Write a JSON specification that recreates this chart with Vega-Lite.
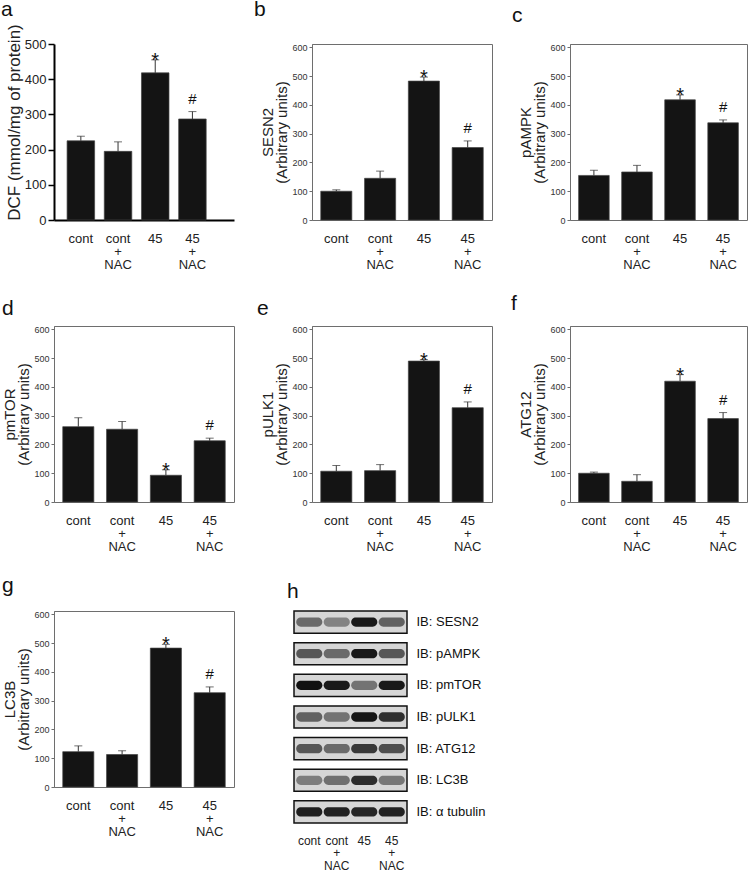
{
  "$schema": "https://vega.github.io/schema/vega-lite/v6.json",
  "padding": {"left": 1, "top": -2, "right": 0, "bottom": 0},
  "background": "white",
  "datasets": {
    "bars": [
      {"panel": "a", "group": "cont", "mean": 225, "upper": 238, "sig": ""},
      {"panel": "a", "group": "cont + NAC", "mean": 195, "upper": 222, "sig": ""},
      {"panel": "a", "group": "45", "mean": 418, "upper": 455, "sig": "*"},
      {"panel": "a", "group": "45 + NAC", "mean": 287, "upper": 308, "sig": "#"},
      {"panel": "b", "group": "cont", "mean": 100, "upper": 105, "sig": ""},
      {"panel": "b", "group": "cont + NAC", "mean": 145, "upper": 170, "sig": ""},
      {"panel": "b", "group": "45", "mean": 483, "upper": 497, "sig": "*"},
      {"panel": "b", "group": "45 + NAC", "mean": 252, "upper": 275, "sig": "#"},
      {"panel": "c", "group": "cont", "mean": 155, "upper": 173, "sig": ""},
      {"panel": "c", "group": "cont + NAC", "mean": 167, "upper": 190, "sig": ""},
      {"panel": "c", "group": "45", "mean": 418, "upper": 435, "sig": "*"},
      {"panel": "c", "group": "45 + NAC", "mean": 338, "upper": 348, "sig": "#"},
      {"panel": "d", "group": "cont", "mean": 262, "upper": 293, "sig": ""},
      {"panel": "d", "group": "cont + NAC", "mean": 253, "upper": 280, "sig": ""},
      {"panel": "d", "group": "45", "mean": 93, "upper": 112, "sig": "*"},
      {"panel": "d", "group": "45 + NAC", "mean": 213, "upper": 222, "sig": "#"},
      {"panel": "e", "group": "cont", "mean": 107, "upper": 127, "sig": ""},
      {"panel": "e", "group": "cont + NAC", "mean": 109, "upper": 130, "sig": ""},
      {"panel": "e", "group": "45", "mean": 490, "upper": 495, "sig": "*"},
      {"panel": "e", "group": "45 + NAC", "mean": 328, "upper": 348, "sig": "#"},
      {"panel": "f", "group": "cont", "mean": 100, "upper": 104, "sig": ""},
      {"panel": "f", "group": "cont + NAC", "mean": 72, "upper": 95, "sig": ""},
      {"panel": "f", "group": "45", "mean": 420, "upper": 443, "sig": "*"},
      {"panel": "f", "group": "45 + NAC", "mean": 290, "upper": 311, "sig": "#"},
      {"panel": "g", "group": "cont", "mean": 123, "upper": 143, "sig": ""},
      {"panel": "g", "group": "cont + NAC", "mean": 113, "upper": 126, "sig": ""},
      {"panel": "g", "group": "45", "mean": 483, "upper": 496, "sig": "*"},
      {"panel": "g", "group": "45 + NAC", "mean": 328, "upper": 348, "sig": "#"}
    ],
    "blotrows": [
      {"protein": "SESN2"}, {"protein": "pAMPK"}, {"protein": "pmTOR"}, {"protein": "pULK1"},
      {"protein": "ATG12"}, {"protein": "LC3B"}, {"protein": "α tubulin"}
    ],
    "blot": [
      {"protein": "SESN2", "lane": "cont", "intensity": 0.45},
      {"protein": "SESN2", "lane": "cont + NAC", "intensity": 0.32},
      {"protein": "SESN2", "lane": "45", "intensity": 0.92},
      {"protein": "SESN2", "lane": "45 + NAC", "intensity": 0.5},
      {"protein": "pAMPK", "lane": "cont", "intensity": 0.55},
      {"protein": "pAMPK", "lane": "cont + NAC", "intensity": 0.45},
      {"protein": "pAMPK", "lane": "45", "intensity": 0.92},
      {"protein": "pAMPK", "lane": "45 + NAC", "intensity": 0.55},
      {"protein": "pmTOR", "lane": "cont", "intensity": 0.97},
      {"protein": "pmTOR", "lane": "cont + NAC", "intensity": 0.92},
      {"protein": "pmTOR", "lane": "45", "intensity": 0.4},
      {"protein": "pmTOR", "lane": "45 + NAC", "intensity": 0.92},
      {"protein": "pULK1", "lane": "cont", "intensity": 0.5},
      {"protein": "pULK1", "lane": "cont + NAC", "intensity": 0.4},
      {"protein": "pULK1", "lane": "45", "intensity": 0.95},
      {"protein": "pULK1", "lane": "45 + NAC", "intensity": 0.78},
      {"protein": "ATG12", "lane": "cont", "intensity": 0.55},
      {"protein": "ATG12", "lane": "cont + NAC", "intensity": 0.45},
      {"protein": "ATG12", "lane": "45", "intensity": 0.72},
      {"protein": "ATG12", "lane": "45 + NAC", "intensity": 0.6},
      {"protein": "LC3B", "lane": "cont", "intensity": 0.35},
      {"protein": "LC3B", "lane": "cont + NAC", "intensity": 0.42},
      {"protein": "LC3B", "lane": "45", "intensity": 0.8},
      {"protein": "LC3B", "lane": "45 + NAC", "intensity": 0.38},
      {"protein": "α tubulin", "lane": "cont", "intensity": 0.88},
      {"protein": "α tubulin", "lane": "cont + NAC", "intensity": 0.86},
      {"protein": "α tubulin", "lane": "45", "intensity": 0.84},
      {"protein": "α tubulin", "lane": "45 + NAC", "intensity": 0.86}
    ]
  },
  "config": {
    "font": "Liberation Sans",
    "view": {"stroke": "#6e6e6e", "strokeWidth": 1},
    "title": {"anchor": "start", "frame": "group", "fontSize": 21, "fontWeight": "normal", "font": "Liberation Sans", "color": "#111", "baseline": "alphabetic"},
    "axisY": {"grid": false, "labelOverlap": false, "domainColor": "#6e6e6e", "tickColor": "#6e6e6e", "tickSize": 3, "labelFont": "Liberation Sans", "labelFontSize": 9, "labelColor": "#333", "labelPadding": 2, "titleFont": "Liberation Sans", "titleFontSize": 15, "titleFontWeight": "normal", "titleColor": "#222", "titleLineHeight": 14, "titlePadding": 2},
    "axisX": {"grid": false, "domain": false, "ticks": false, "labelAngle": 0, "labelOverlap": false, "labelFont": "Liberation Sans", "labelFontSize": 13, "labelLineHeight": 13, "labelPadding": 12, "labelColor": "#222", "labelBaseline": "top", "title": null, "labelExpr": "split(datum.label, ' ')"}
  },
  "vconcat": [
    {
      "hconcat": [
        {
          "width": 180, "height": 176,
          "view": {"stroke": null},
          "title": {"text": "a", "dx": -53, "offset": 4},
          "data": {"name": "bars"},
          "transform": [{"filter": "datum.panel == 'a'"}],
          "encoding": {
            "x": {"field": "group", "type": "nominal", "sort": ["cont", "cont + NAC", "45", "45 + NAC"], "scale": {"paddingInner": 0.26, "paddingOuter": 0.55, "align": 0.32}, "axis": {"domain": true, "domainColor": "#000", "domainWidth": 2}}
          },
          "layer": [
            {"mark": {"type": "bar", "color": "#141414", "stroke": "#444", "strokeWidth": 0.7}, "encoding": {"y": {"field": "mean", "type": "quantitative", "scale": {"domain": [0, 500], "nice": false}, "axis": {"values": [0, 100, 200, 300, 400, 500], "tickCount": 6, "labelOverlap": false, "title": "DCF (mmol/mg of protein)", "titleY": 78, "domainColor": "#000", "domainWidth": 2, "tickColor": "#000", "tickWidth": 1.5, "tickSize": 6, "labelFont": "Liberation Sans", "labelFontSize": 13, "labelColor": "#222", "labelPadding": 2, "titleFontSize": 17, "titlePadding": 1}}}},
            {"mark": {"type": "rule", "color": "#333", "strokeWidth": 1}, "encoding": {"y": {"field": "mean", "type": "quantitative", "axis": {"values": [0, 100, 200, 300, 400, 500], "tickCount": 6, "labelOverlap": false, "title": "DCF (mmol/mg of protein)"}}, "y2": {"field": "upper"}}},
            {"mark": {"type": "tick", "color": "#333", "thickness": 1, "size": 8, "orient": "horizontal"}, "encoding": {"y": {"field": "upper", "type": "quantitative", "axis": {"values": [0, 100, 200, 300, 400, 500], "tickCount": 6, "labelOverlap": false, "title": "DCF (mmol/mg of protein)"}}}},
            {"transform": [{"filter": "datum.sig == '*'"}], "mark": {"type": "text", "fontSize": 20, "dy": 7, "baseline": "alphabetic", "color": "#111"}, "encoding": {"y": {"field": "upper", "type": "quantitative", "axis": {"values": [0, 100, 200, 300, 400, 500], "tickCount": 6, "labelOverlap": false, "title": "DCF (mmol/mg of protein)"}}, "text": {"field": "sig"}}},
            {"transform": [{"filter": "datum.sig == '#'"}], "mark": {"type": "text", "fontSize": 15, "dy": -8, "baseline": "alphabetic", "color": "#111"}, "encoding": {"y": {"field": "upper", "type": "quantitative", "axis": {"values": [0, 100, 200, 300, 400, 500], "tickCount": 6, "labelOverlap": false, "title": "DCF (mmol/mg of protein)"}}, "text": {"field": "sig"}}}
          ]
        },
        {
          "width": 180, "height": 176,
          "title": {"text": "b", "dx": -58, "offset": 23},
          "data": {"name": "bars"},
          "transform": [{"filter": "datum.panel == 'b'"}],
          "encoding": {"x": {"field": "group", "type": "nominal", "sort": ["cont", "cont + NAC", "45", "45 + NAC"], "scale": {"paddingInner": 0.29, "paddingOuter": 0.2}}},
          "layer": [
            {"mark": {"type": "bar", "color": "#141414", "stroke": "#444", "strokeWidth": 0.7}, "encoding": {"y": {"field": "mean", "type": "quantitative", "scale": {"domain": [0, 612], "nice": false}, "axis": {"values": [0, 100, 200, 300, 400, 500, 600], "tickCount": 7, "labelOverlap": false, "title": ["SESN2", "(Arbitrary units)"]}}}},
            {"mark": {"type": "rule", "color": "#333", "strokeWidth": 1}, "encoding": {"y": {"field": "mean", "type": "quantitative", "axis": {"values": [0, 100, 200, 300, 400, 500, 600], "tickCount": 7, "labelOverlap": false, "title": ["SESN2", "(Arbitrary units)"]}}, "y2": {"field": "upper"}}},
            {"mark": {"type": "tick", "color": "#333", "thickness": 1, "size": 8, "orient": "horizontal"}, "encoding": {"y": {"field": "upper", "type": "quantitative", "axis": {"values": [0, 100, 200, 300, 400, 500, 600], "tickCount": 7, "labelOverlap": false, "title": ["SESN2", "(Arbitrary units)"]}}}},
            {"transform": [{"filter": "datum.sig == '*'"}], "mark": {"type": "text", "fontSize": 20, "dy": 7, "baseline": "alphabetic", "color": "#111"}, "encoding": {"y": {"field": "upper", "type": "quantitative", "axis": {"values": [0, 100, 200, 300, 400, 500, 600], "tickCount": 7, "labelOverlap": false, "title": ["SESN2", "(Arbitrary units)"]}}, "text": {"field": "sig"}}},
            {"transform": [{"filter": "datum.sig == '#'"}], "mark": {"type": "text", "fontSize": 15, "dy": -8, "baseline": "alphabetic", "color": "#111"}, "encoding": {"y": {"field": "upper", "type": "quantitative", "axis": {"values": [0, 100, 200, 300, 400, 500, 600], "tickCount": 7, "labelOverlap": false, "title": ["SESN2", "(Arbitrary units)"]}}, "text": {"field": "sig"}}}
          ]
        },
        {
          "width": 177, "height": 176,
          "title": {"text": "c", "dx": -58, "offset": 17},
          "data": {"name": "bars"},
          "transform": [{"filter": "datum.panel == 'c'"}],
          "encoding": {"x": {"field": "group", "type": "nominal", "sort": ["cont", "cont + NAC", "45", "45 + NAC"], "scale": {"paddingInner": 0.29, "paddingOuter": 0.2}}},
          "layer": [
            {"mark": {"type": "bar", "color": "#141414", "stroke": "#444", "strokeWidth": 0.7}, "encoding": {"y": {"field": "mean", "type": "quantitative", "scale": {"domain": [0, 612], "nice": false}, "axis": {"values": [0, 100, 200, 300, 400, 500, 600], "tickCount": 7, "labelOverlap": false, "title": ["pAMPK", "(Arbitrary units)"]}}}},
            {"mark": {"type": "rule", "color": "#333", "strokeWidth": 1}, "encoding": {"y": {"field": "mean", "type": "quantitative", "axis": {"values": [0, 100, 200, 300, 400, 500, 600], "tickCount": 7, "labelOverlap": false, "title": ["pAMPK", "(Arbitrary units)"]}}, "y2": {"field": "upper"}}},
            {"mark": {"type": "tick", "color": "#333", "thickness": 1, "size": 8, "orient": "horizontal"}, "encoding": {"y": {"field": "upper", "type": "quantitative", "axis": {"values": [0, 100, 200, 300, 400, 500, 600], "tickCount": 7, "labelOverlap": false, "title": ["pAMPK", "(Arbitrary units)"]}}}},
            {"transform": [{"filter": "datum.sig == '*'"}], "mark": {"type": "text", "fontSize": 20, "dy": 7, "baseline": "alphabetic", "color": "#111"}, "encoding": {"y": {"field": "upper", "type": "quantitative", "axis": {"values": [0, 100, 200, 300, 400, 500, 600], "tickCount": 7, "labelOverlap": false, "title": ["pAMPK", "(Arbitrary units)"]}}, "text": {"field": "sig"}}},
            {"transform": [{"filter": "datum.sig == '#'"}], "mark": {"type": "text", "fontSize": 15, "dy": -8, "baseline": "alphabetic", "color": "#111"}, "encoding": {"y": {"field": "upper", "type": "quantitative", "axis": {"values": [0, 100, 200, 300, 400, 500, 600], "tickCount": 7, "labelOverlap": false, "title": ["pAMPK", "(Arbitrary units)"]}}, "text": {"field": "sig"}}}
          ]
        }
      ],
      "spacing": 78,
      "bounds": "flush"
    },
    {
      "hconcat": [
        {
          "width": 180, "height": 176,
          "title": {"text": "d", "dx": -52, "offset": 6},
          "data": {"name": "bars"},
          "transform": [{"filter": "datum.panel == 'd'"}],
          "encoding": {"x": {"field": "group", "type": "nominal", "sort": ["cont", "cont + NAC", "45", "45 + NAC"], "scale": {"paddingInner": 0.29, "paddingOuter": 0.2}}},
          "layer": [
            {"mark": {"type": "bar", "color": "#141414", "stroke": "#444", "strokeWidth": 0.7}, "encoding": {"y": {"field": "mean", "type": "quantitative", "scale": {"domain": [0, 612], "nice": false}, "axis": {"values": [0, 100, 200, 300, 400, 500, 600], "tickCount": 7, "labelOverlap": false, "title": ["pmTOR", "(Arbitrary units)"]}}}},
            {"mark": {"type": "rule", "color": "#333", "strokeWidth": 1}, "encoding": {"y": {"field": "mean", "type": "quantitative", "axis": {"values": [0, 100, 200, 300, 400, 500, 600], "tickCount": 7, "labelOverlap": false, "title": ["pmTOR", "(Arbitrary units)"]}}, "y2": {"field": "upper"}}},
            {"mark": {"type": "tick", "color": "#333", "thickness": 1, "size": 8, "orient": "horizontal"}, "encoding": {"y": {"field": "upper", "type": "quantitative", "axis": {"values": [0, 100, 200, 300, 400, 500, 600], "tickCount": 7, "labelOverlap": false, "title": ["pmTOR", "(Arbitrary units)"]}}}},
            {"transform": [{"filter": "datum.sig == '*'"}], "mark": {"type": "text", "fontSize": 20, "dy": 7, "baseline": "alphabetic", "color": "#111"}, "encoding": {"y": {"field": "upper", "type": "quantitative", "axis": {"values": [0, 100, 200, 300, 400, 500, 600], "tickCount": 7, "labelOverlap": false, "title": ["pmTOR", "(Arbitrary units)"]}}, "text": {"field": "sig"}}},
            {"transform": [{"filter": "datum.sig == '#'"}], "mark": {"type": "text", "fontSize": 15, "dy": -8, "baseline": "alphabetic", "color": "#111"}, "encoding": {"y": {"field": "upper", "type": "quantitative", "axis": {"values": [0, 100, 200, 300, 400, 500, 600], "tickCount": 7, "labelOverlap": false, "title": ["pmTOR", "(Arbitrary units)"]}}, "text": {"field": "sig"}}}
          ]
        },
        {
          "width": 180, "height": 176,
          "title": {"text": "e", "dx": -55, "offset": 6},
          "data": {"name": "bars"},
          "transform": [{"filter": "datum.panel == 'e'"}],
          "encoding": {"x": {"field": "group", "type": "nominal", "sort": ["cont", "cont + NAC", "45", "45 + NAC"], "scale": {"paddingInner": 0.29, "paddingOuter": 0.2}}},
          "layer": [
            {"mark": {"type": "bar", "color": "#141414", "stroke": "#444", "strokeWidth": 0.7}, "encoding": {"y": {"field": "mean", "type": "quantitative", "scale": {"domain": [0, 612], "nice": false}, "axis": {"values": [0, 100, 200, 300, 400, 500, 600], "tickCount": 7, "labelOverlap": false, "title": ["pULK1", "(Arbitrary units)"]}}}},
            {"mark": {"type": "rule", "color": "#333", "strokeWidth": 1}, "encoding": {"y": {"field": "mean", "type": "quantitative", "axis": {"values": [0, 100, 200, 300, 400, 500, 600], "tickCount": 7, "labelOverlap": false, "title": ["pULK1", "(Arbitrary units)"]}}, "y2": {"field": "upper"}}},
            {"mark": {"type": "tick", "color": "#333", "thickness": 1, "size": 8, "orient": "horizontal"}, "encoding": {"y": {"field": "upper", "type": "quantitative", "axis": {"values": [0, 100, 200, 300, 400, 500, 600], "tickCount": 7, "labelOverlap": false, "title": ["pULK1", "(Arbitrary units)"]}}}},
            {"transform": [{"filter": "datum.sig == '*'"}], "mark": {"type": "text", "fontSize": 20, "dy": 7, "baseline": "alphabetic", "color": "#111"}, "encoding": {"y": {"field": "upper", "type": "quantitative", "axis": {"values": [0, 100, 200, 300, 400, 500, 600], "tickCount": 7, "labelOverlap": false, "title": ["pULK1", "(Arbitrary units)"]}}, "text": {"field": "sig"}}},
            {"transform": [{"filter": "datum.sig == '#'"}], "mark": {"type": "text", "fontSize": 15, "dy": -8, "baseline": "alphabetic", "color": "#111"}, "encoding": {"y": {"field": "upper", "type": "quantitative", "axis": {"values": [0, 100, 200, 300, 400, 500, 600], "tickCount": 7, "labelOverlap": false, "title": ["pULK1", "(Arbitrary units)"]}}, "text": {"field": "sig"}}}
          ]
        },
        {
          "width": 177, "height": 176,
          "title": {"text": "f", "dx": -59, "offset": 11},
          "data": {"name": "bars"},
          "transform": [{"filter": "datum.panel == 'f'"}],
          "encoding": {"x": {"field": "group", "type": "nominal", "sort": ["cont", "cont + NAC", "45", "45 + NAC"], "scale": {"paddingInner": 0.29, "paddingOuter": 0.2}}},
          "layer": [
            {"mark": {"type": "bar", "color": "#141414", "stroke": "#444", "strokeWidth": 0.7}, "encoding": {"y": {"field": "mean", "type": "quantitative", "scale": {"domain": [0, 612], "nice": false}, "axis": {"values": [0, 100, 200, 300, 400, 500, 600], "tickCount": 7, "labelOverlap": false, "title": ["ATG12", "(Arbitrary units)"]}}}},
            {"mark": {"type": "rule", "color": "#333", "strokeWidth": 1}, "encoding": {"y": {"field": "mean", "type": "quantitative", "axis": {"values": [0, 100, 200, 300, 400, 500, 600], "tickCount": 7, "labelOverlap": false, "title": ["ATG12", "(Arbitrary units)"]}}, "y2": {"field": "upper"}}},
            {"mark": {"type": "tick", "color": "#333", "thickness": 1, "size": 8, "orient": "horizontal"}, "encoding": {"y": {"field": "upper", "type": "quantitative", "axis": {"values": [0, 100, 200, 300, 400, 500, 600], "tickCount": 7, "labelOverlap": false, "title": ["ATG12", "(Arbitrary units)"]}}}},
            {"transform": [{"filter": "datum.sig == '*'"}], "mark": {"type": "text", "fontSize": 20, "dy": 7, "baseline": "alphabetic", "color": "#111"}, "encoding": {"y": {"field": "upper", "type": "quantitative", "axis": {"values": [0, 100, 200, 300, 400, 500, 600], "tickCount": 7, "labelOverlap": false, "title": ["ATG12", "(Arbitrary units)"]}}, "text": {"field": "sig"}}},
            {"transform": [{"filter": "datum.sig == '#'"}], "mark": {"type": "text", "fontSize": 15, "dy": -8, "baseline": "alphabetic", "color": "#111"}, "encoding": {"y": {"field": "upper", "type": "quantitative", "axis": {"values": [0, 100, 200, 300, 400, 500, 600], "tickCount": 7, "labelOverlap": false, "title": ["ATG12", "(Arbitrary units)"]}}, "text": {"field": "sig"}}}
          ]
        }
      ],
      "spacing": 78,
      "bounds": "flush"
    },
    {
      "hconcat": [
        {
          "width": 180, "height": 176,
          "title": {"text": "g", "dx": -52, "offset": 14},
          "data": {"name": "bars"},
          "transform": [{"filter": "datum.panel == 'g'"}],
          "encoding": {"x": {"field": "group", "type": "nominal", "sort": ["cont", "cont + NAC", "45", "45 + NAC"], "scale": {"paddingInner": 0.29, "paddingOuter": 0.2}}},
          "layer": [
            {"mark": {"type": "bar", "color": "#141414", "stroke": "#444", "strokeWidth": 0.7}, "encoding": {"y": {"field": "mean", "type": "quantitative", "scale": {"domain": [0, 612], "nice": false}, "axis": {"values": [0, 100, 200, 300, 400, 500, 600], "tickCount": 7, "labelOverlap": false, "title": ["LC3B", "(Arbitrary units)"]}}}},
            {"mark": {"type": "rule", "color": "#333", "strokeWidth": 1}, "encoding": {"y": {"field": "mean", "type": "quantitative", "axis": {"values": [0, 100, 200, 300, 400, 500, 600], "tickCount": 7, "labelOverlap": false, "title": ["LC3B", "(Arbitrary units)"]}}, "y2": {"field": "upper"}}},
            {"mark": {"type": "tick", "color": "#333", "thickness": 1, "size": 8, "orient": "horizontal"}, "encoding": {"y": {"field": "upper", "type": "quantitative", "axis": {"values": [0, 100, 200, 300, 400, 500, 600], "tickCount": 7, "labelOverlap": false, "title": ["LC3B", "(Arbitrary units)"]}}}},
            {"transform": [{"filter": "datum.sig == '*'"}], "mark": {"type": "text", "fontSize": 20, "dy": 7, "baseline": "alphabetic", "color": "#111"}, "encoding": {"y": {"field": "upper", "type": "quantitative", "axis": {"values": [0, 100, 200, 300, 400, 500, 600], "tickCount": 7, "labelOverlap": false, "title": ["LC3B", "(Arbitrary units)"]}}, "text": {"field": "sig"}}},
            {"transform": [{"filter": "datum.sig == '#'"}], "mark": {"type": "text", "fontSize": 15, "dy": -8, "baseline": "alphabetic", "color": "#111"}, "encoding": {"y": {"field": "upper", "type": "quantitative", "axis": {"values": [0, 100, 200, 300, 400, 500, 600], "tickCount": 7, "labelOverlap": false, "title": ["LC3B", "(Arbitrary units)"]}}, "text": {"field": "sig"}}}
          ]
        },
        {
          "width": 113, "height": 212,
          "view": {"stroke": null},
          "title": {"text": "h", "dx": -7, "offset": 8},
          "layer": [
            {
              "data": {"name": "blotrows"},
              "mark": {"type": "rect", "fill": "#d6d6d6", "stroke": "#111", "strokeWidth": 1.5},
              "encoding": {"y": {"field": "protein", "type": "nominal", "sort": ["SESN2", "pAMPK", "pmTOR", "pULK1", "ATG12", "LC3B", "α tubulin"], "scale": {"paddingInner": 0.3, "paddingOuter": 0}, "axis": {"orient": "right", "title": null, "domain": false, "ticks": false, "labelFont": "Liberation Sans", "labelFontSize": 13, "labelColor": "#111", "labelPadding": 9, "labelExpr": "'IB: ' + datum.label"}}}
            },
            {
              "data": {"name": "blot"},
              "mark": {"type": "rect", "height": {"band": 0.42}, "cornerRadius": 5},
              "encoding": {
                "x": {"field": "lane", "type": "nominal", "sort": ["cont", "cont + NAC", "45", "45 + NAC"], "scale": {"paddingInner": 0.05, "paddingOuter": 0.08}, "axis": {"labelPadding": 12, "labelFont": "Liberation Sans", "labelFontSize": 12, "labelLineHeight": 12.5}},
                "y": {"field": "protein", "type": "nominal", "sort": ["SESN2", "pAMPK", "pmTOR", "pULK1", "ATG12", "LC3B", "α tubulin"]},
                "color": {"field": "intensity", "type": "quantitative", "scale": {"domain": [0, 1], "range": ["#c4c4c4", "#0a0a0a"]}, "legend": null}
              }
            }
          ]
        }
      ],
      "spacing": 60,
      "bounds": "flush"
    }
  ],
  "spacing": 20
}
